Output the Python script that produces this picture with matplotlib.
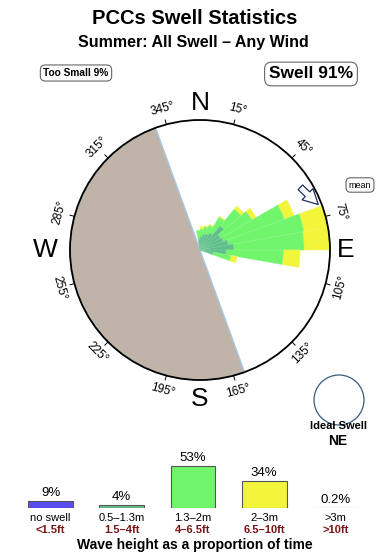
import numpy as np
import matplotlib.pyplot as plt
from matplotlib.patches import Wedge, Circle, Polygon

plt.rcParams['font.family'] = ['Liberation Sans', 'DejaVu Sans']

# swell rose: 10 degree bins (start bearing), stacked band lengths as fraction of rose radius
bin_start = [350, 0, 10, 20, 30, 40, 50, 60, 70, 80, 90, 100]
band_small = [0.08, 0.10, 0.12, 0.13, 0.15, 0.24, 0.18, 0.19, 0.22, 0.26, 0.20, 0.10]   # 0.5-1.3m
band_mid = [0.07, 0.06, 0.06, 0.07, 0.14, 0.17, 0.28, 0.50, 0.59, 0.54, 0.44, 0.14]     # 1.3-2m
band_big = [0.00, 0.02, 0.01, 0.01, 0.01, 0.03, 0.04, 0.08, 0.19, 0.20, 0.13, 0.05]     # 2-3m
band_colors = ['#5fbf8a', '#70f56c', '#f2f53a']
band_edges = ['#7acb9c', '#8cf688', '#f4f660']

land_from, land_to = 160, 340
mean_dir = 65

# wave height summary
height_labels = ['no swell', '0.5\u20131.3m', '1.3\u20132m', '2\u20133m', '>3m']
height_feet = ['<1.5ft', '1.5\u20134ft', '4\u20136.5ft', '6.5\u201310ft', '>10ft']
height_pct = [9, 4, 53, 34, 0.2]
height_text = ['9%', '4%', '53%', '34%', '0.2%']
height_colors = ['#5a4ef0', '#5fbf8a', '#70f56c', '#f2f53a', '#c09a9a']

R = 130.0
fig = plt.figure(figsize=(3.9, 5.6), dpi=100)
ax = fig.add_axes([0, 0, 1, 1])
ax.set_xlim(-200 / R, 190 / R)
ax.set_ylim(-310 / R, 250 / R)
ax.axis('off')


def pol(b, r):
    return r * np.sin(np.radians(b)), r * np.cos(np.radians(b))


# land side
ax.add_patch(Wedge((0, 0), 1, 90 - land_to, 90 - land_from + 360,
                   facecolor='#c0b4a8', edgecolor='#a8c8e0', lw=1, zorder=1))

# rose
for i, b in enumerate(bin_start):
    r1 = band_small[i]
    r2 = r1 + band_mid[i]
    r3 = r2 + band_big[i]
    t1, t2 = 90 - (b + 10), 90 - b
    for r_out, w, c, e in [(r3, band_big[i], band_colors[2], band_edges[2]),
                           (r2, band_mid[i], band_colors[1], band_edges[1]),
                           (r1, r1, band_colors[0], band_edges[0])]:
        if w > 0:
            ax.add_patch(Wedge((0, 0), r_out, t1, t2, width=w, facecolor=c,
                               edgecolor=e, lw=0.4, zorder=2))

# compass circle
ax.add_patch(Circle((0, 0), 1, fill=False, edgecolor='black', lw=1.3, zorder=3))
for b in range(15, 360, 30):
    x0, y0 = pol(b, 1.0)
    x1, y1 = pol(b, 1.035)
    ax.plot([x0, x1], [y0, y1], color='black', lw=0.7, zorder=3)
    rot = -b
    if 90 < b < 270:
        rot = 180 - b
    elif b > 270:
        rot = 360 - b
    tx, ty = pol(b, 1.12)
    ax.text(tx, ty, f'{b}\u00b0', fontsize=8.5, rotation=rot,
            ha='center', va='center', rotation_mode='anchor')

for lab, b, r in [('N', 0, 1.13), ('E', 90, 1.12), ('S', 180, 1.15), ('W', 270, 1.19)]:
    tx, ty = pol(b, r)
    ax.text(tx, ty, lab, fontsize=19, ha='center', va='center')

# mean arrow (hollow)
tail = np.array(pol(mean_dir - 7, 0.91))
tip = np.array(pol(mean_dir + 4, 0.975))
d = tip - tail
n = np.array([-d[1], d[0]]) / np.hypot(*d)
hw, sw = 0.06, 0.025
neck = tail + 0.4 * d
pts = [tail + n * sw, neck + n * sw, neck + n * hw, tip,
       neck - n * hw, neck - n * sw, tail - n * sw]
ax.add_patch(Polygon(pts, closed=True, fill=False, edgecolor='#1c2f5a', lw=0.9, zorder=4))

box = dict(boxstyle='round,pad=0.3,rounding_size=0.5', fc='white', ec='#666666', lw=0.8)
ax.text(160 / R, 65 / R, 'mean', fontsize=6.5, ha='center', va='center', bbox=box)
ax.text(-124 / R, 177 / R, 'Too Small 9%', fontsize=7.3, fontweight='bold',
        ha='center', va='center', bbox=box)
ax.text(111 / R, 176 / R, 'Swell 91%', fontsize=12.5, fontweight='bold',
        ha='center', va='center', bbox=dict(boxstyle='round,pad=0.25,rounding_size=0.4',
                                            fc='white', ec='#666666', lw=0.8))

# ideal swell
ax.add_patch(Circle((139 / R, -150 / R), 25 / R, fill=False, edgecolor='#3a5a80', lw=0.9))
ax.text(138 / R, -176 / R, 'Ideal Swell', fontsize=8, fontweight='bold', ha='center', va='center')
ax.text(138 / R, -191 / R, 'NE', fontsize=10, fontweight='bold', ha='center', va='center')

fig.text(0.5, 1 - 18 / 560, 'PCCs Swell Statistics', fontsize=14.5, fontweight='bold',
         ha='center', va='center')
fig.text(0.497, 1 - 42 / 560, 'Summer: All Swell \u2013 Any Wind', fontsize=11.5,
         fontweight='bold', ha='center', va='center')

# wave height bars
axb = fig.add_axes([0, 52 / 560, 1, 68 / 560])
axb.set_xlim(-0.709, 4.765)
axb.set_ylim(0, 86)
axb.axis('off')
xs = np.arange(len(height_pct))
axb.bar(xs, height_pct, width=0.63, color=height_colors, edgecolor='#555555', lw=0.8)
for x, p, t, lab, ft in zip(xs, height_pct, height_text, height_labels, height_feet):
    axb.text(x, p + 10, t, fontsize=9.5, ha='center', va='center')
    axb.text(x, -12.5, lab, fontsize=8, ha='center', va='center', clip_on=False)
    axb.text(x, -28, ft, fontsize=8, fontweight='bold', color='#7a1414',
             ha='center', va='center', clip_on=False)

fig.text(0.5, 1 - 545 / 560, 'Wave height as a proportion of time', fontsize=10,
         fontweight='bold', ha='center', va='center')

fig.savefig('out.png', dpi=100)
